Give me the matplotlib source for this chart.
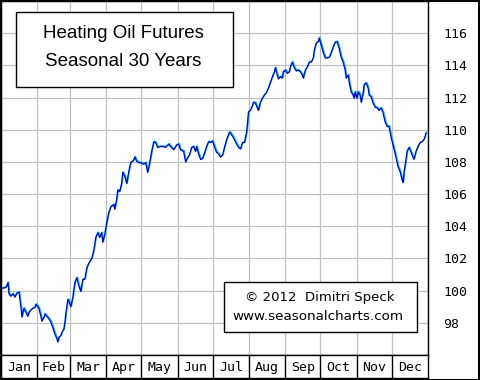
import matplotlib
matplotlib.use('Agg')
import matplotlib.pyplot as plt
import matplotlib.transforms as mtransforms
from matplotlib.patches import Rectangle

# seasonal pattern (day of year, index value)
days = [0, 1.7, 4.3, 6.0, 6.8, 8.5, 10.2, 11.9, 13.6, 15.4, 16.2, 17.1, 17.9, 18.8, 19.6,
        21.3, 23.0, 23.9, 25.6, 27.3, 29.0, 29.8, 31.6, 32.4, 34.1, 35.0, 36.7, 37.5, 39.2,
        40.9, 42.6, 44.3, 46.1, 47.8, 48.6, 49.5, 51.2, 52.0, 53.7, 54.6, 55.4, 56.3, 57.1,
        58.0, 59.7, 61.4, 63.1, 64.8, 66.5, 68.2, 69.9, 71.6, 73.3, 75.0, 77.6, 79.3, 81.0,
        82.7, 84.4, 86.1, 87.0, 88.7, 90.4, 92.1, 93.8, 96.4, 97.2, 98.9, 99.8, 101.5, 103.2,
        104.0, 105.8, 107.5, 109.2, 110.9, 113.4, 114.3, 116.0, 117.7, 119.4, 122.0, 123.7,
        125.4, 127.1, 128.8, 130.5, 132.2, 133.9, 136.4, 139.0, 140.7, 143.3, 145.0, 147.6,
        150.1, 151.8, 153.5, 156.1, 157.8, 159.5, 161.2, 162.9, 164.6, 166.3, 167.2, 168.9,
        170.6, 172.3, 174.0, 175.7, 177.4, 179.1, 180.8, 182.5, 184.2, 185.9, 187.6, 189.3,
        191.0, 192.7, 195.3, 197.0, 198.7, 200.4, 203.0, 204.7, 206.4, 208.1, 209.8, 210.7,
        211.5, 213.2, 214.9, 215.8, 217.5, 219.2, 220.0, 221.7, 223.4, 225.1, 226.8, 228.6,
        230.3, 232.0, 233.7, 234.5, 236.2, 237.1, 238.8, 240.5, 241.3, 243.0, 244.8, 246.5,
        247.3, 249.0, 250.7, 252.4, 254.1, 255.8, 257.6, 258.4, 260.1, 261.8, 263.5, 265.2,
        266.9, 267.8, 269.5, 271.2, 272.0, 273.8, 275.5, 277.2, 278.9, 280.6, 282.3, 284.0,
        285.7, 287.4, 289.1, 290.8, 292.5, 294.2, 295.1, 296.8, 297.6, 299.3, 301.0, 301.9,
        302.7, 304.4, 305.3, 307.0, 307.9, 309.6, 310.4, 312.1, 313.8, 314.7, 316.4, 318.1,
        319.8, 321.5, 323.2, 324.9, 326.6, 328.3, 330.0, 331.7, 333.4, 335.1, 336.8, 338.5,
        339.4, 341.1, 342.8, 343.7, 344.5, 346.2, 347.1, 348.8, 350.5, 352.2, 353.0, 354.7,
        356.4, 358.2, 359.9, 361.6, 362.4, 363.3]
values = [100.1, 100.15, 100.2, 100.5, 99.8, 99.65, 99.8, 99.6, 99.85, 99.9, 99.45, 98.95, 98.35,
          98.7, 98.9, 98.65, 98.4, 98.65, 98.8, 98.9, 98.95, 99.15, 99.0, 98.9, 98.4, 98.1,
          98.35, 98.55, 98.4, 98.25, 98.05, 97.7, 97.3, 97.0, 96.8, 97.1, 97.2, 97.4, 97.6,
          98.05, 98.55, 99.05, 99.45, 99.35, 99.0, 99.6, 100.5, 100.8, 100.3, 99.95, 100.7,
          100.7, 101.4, 101.7, 102.0, 102.5, 103.3, 103.6, 103.3, 103.6, 103.0, 103.5, 104.25,
          104.85, 105.2, 105.35, 105.05, 105.7, 106.25, 106.15, 106.7, 107.35, 107.1, 106.65,
          107.4, 107.95, 108.1, 108.3, 108.05, 107.95, 107.95, 107.85, 107.95, 107.35, 107.95,
          108.65, 109.25, 109.2, 108.9, 108.95, 108.95, 108.9, 109.1, 108.95, 108.75, 109.05,
          109.1, 108.75, 108.65, 108.0, 108.25, 108.45, 108.9, 108.95, 108.65, 108.95, 108.5,
          108.15, 108.2, 108.55, 108.95, 109.25, 109.2, 109.3, 108.95, 108.6, 108.5, 108.3,
          108.4, 108.9, 109.35, 109.85, 109.7, 109.5, 109.25, 108.9, 108.8, 109.2, 109.2,
          109.8, 110.4, 111.1, 111.2, 111.5, 111.7, 111.65, 111.35, 111.2, 111.7, 111.95,
          112.15, 112.3, 112.6, 112.95, 113.3, 113.6, 113.85, 113.4, 113.15, 113.3, 113.2,
          113.6, 113.7, 113.5, 113.6, 113.9, 114.2, 113.85, 113.65, 113.7, 113.6, 113.4, 113.2,
          113.7, 113.9, 114.2, 114.2, 114.45, 114.95, 115.4, 115.45, 115.7, 115.25, 114.8,
          114.45, 114.45, 114.5, 114.8, 115.15, 115.45, 115.45, 115.05, 114.5, 114.2, 113.7,
          113.2, 113.4, 112.95, 112.35, 112.15, 111.95, 112.35, 111.95, 112.35, 112.15, 111.7,
          112.3, 112.8, 112.9, 112.6, 112.15, 112.05, 111.65, 111.4, 111.35, 111.2, 111.35,
          111.05, 110.5, 110.2, 110.2, 109.55, 109.05, 108.55, 108.0, 107.7, 107.4, 106.9,
          106.7, 107.35, 108.15, 108.65, 108.9, 108.6, 108.3, 108.15, 108.65, 108.95, 109.2,
          109.25, 109.4, 109.55, 109.8]

month_starts = [0, 31, 59, 90, 120, 151, 181, 212, 243, 273, 304, 334, 365]
month_names = ['Jan', 'Feb', 'Mar', 'Apr', 'May', 'Jun', 'Jul', 'Aug', 'Sep', 'Oct', 'Nov', 'Dec']
y_ticks = [98, 100, 102, 104, 106, 108, 110, 112, 114, 116]

W, H = 480, 380
fig = plt.figure(figsize=(W / 100, H / 100), dpi=100)
fig.patch.set_facecolor('white')


def box(x0, y0, x1, y1):
    # pixel box (top-left origin) -> figure fraction
    return [x0 / W, 1 - y1 / H, (x1 - x0) / W, (y1 - y0) / H]


ax = fig.add_axes(box(1, 1, 428, 355))
ax.set_xlim(0, 365)
ax.set_ylim(96, 118)
ax.set_xticks(month_starts)
ax.set_xticklabels([])
ax.tick_params(axis='x', length=0)
ax.yaxis.tick_right()
ax.set_yticks(y_ticks)
ax.set_yticklabels([str(t) for t in y_ticks], fontsize=9.5, family='DejaVu Sans Mono')
ax.tick_params(axis='y', length=0, pad=11)
ax.grid(True, color='#c0c0c0', lw=0.9)
ax.set_axisbelow(True)
for s in ax.spines.values():
    s.set_color('black')
    s.set_linewidth(1.0)

# cyan shadow under the navy line
shift = mtransforms.ScaledTranslation(0.8 / 100, 0.8 / 100, fig.dpi_scale_trans)
ax.plot(days, values, color='#00c8ff', lw=0.9, transform=ax.transData + shift)
ax.plot(days, values, color='#0000b4', lw=0.9)

# month band
axm = fig.add_axes(box(1, 355, 428, 378))
axm.set_xlim(0, 365)
axm.set_ylim(0, 1)
axm.set_xticks([])
axm.set_yticks([])
for s in axm.spines.values():
    s.set_linewidth(1.0)
for m in month_starts[1:-1]:
    axm.axvline(m, color='black', lw=1.0)
for i, name in enumerate(month_names):
    mid = (month_starts[i] + month_starts[i + 1]) / 2
    axm.text(mid, 0.45, name, ha='center', va='center', fontsize=9.5, family='DejaVu Sans Mono')

# title box
fig.patches.append(Rectangle((16 / W, 1 - 87 / H), 217 / W, 75 / H, transform=fig.transFigure,
                             facecolor='white', edgecolor='black', lw=1.0, zorder=5))
fig.text(123 / W, 1 - 34 / H, 'Heating Oil Futures', ha='center', va='center',
         fontsize=13.5, family='Liberation Sans', zorder=6)
fig.text(123 / W, 1 - 61 / H, 'Seasonal 30 Years', ha='center', va='center',
         fontsize=13.5, family='Liberation Sans', zorder=6)

# copyright box
fig.patches.append(Rectangle((224 / W, 1 - 332 / H), 193 / W, 50 / H, transform=fig.transFigure,
                             facecolor='white', edgecolor='black', lw=1.0, zorder=5))
fig.text(320 / W, 1 - 298 / H, '\u00a9 2012  Dimitri Speck', ha='center', va='center',
         fontsize=9.5, family='DejaVu Sans', zorder=6)
fig.text(318 / W, 1 - 317 / H, 'www.seasonalcharts.com', ha='center', va='center',
         fontsize=9.7, family='DejaVu Sans', zorder=6)

# outer frame
fig.patches.append(Rectangle((0.5 / W, 0.5 / H), (W - 1.5) / W, (H - 1.5) / H, transform=fig.transFigure,
                             facecolor='none', edgecolor='black', lw=1.5, zorder=10))

plt.savefig('out.png', dpi=100)
